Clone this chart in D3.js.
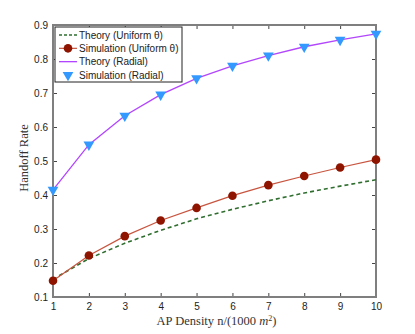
<!DOCTYPE html>
<html>
<head>
<meta charset="utf-8">
<script src="https://cdn.jsdelivr.net/npm/d3@7"></script>
<style>
  body { margin: 0; background: #fff; }
  svg text { font-family: "Liberation Sans", Arial, sans-serif; }
</style>
</head>
<body>
<div id="chart"></div>
<script>
// data
var density = [1, 2, 3, 4, 5, 6, 7, 8, 9, 10];
var theoryUniform = [0.152, 0.213, 0.258, 0.296, 0.330, 0.358, 0.383, 0.406, 0.426, 0.445];
var simUniform = [0.148, 0.222, 0.279, 0.325, 0.362, 0.398, 0.429, 0.456, 0.481, 0.504];
var theoryRadial = [0.415, 0.548, 0.633, 0.695, 0.743, 0.780, 0.810, 0.836, 0.856, 0.874];
var simRadial = [0.415, 0.548, 0.633, 0.695, 0.743, 0.780, 0.810, 0.836, 0.856, 0.874];
var yTicks = [0.1, 0.2, 0.3, 0.4, 0.5, 0.6, 0.7, 0.8, 0.9];
var legendLabels = ["Theory (Uniform \u03b8)", "Simulation (Uniform \u03b8)", "Theory (Radial)", "Simulation (Radial)"];

var width = 415, height = 334;
var margin = {top: 25, right: 39, bottom: 37, left: 53};
var w = width - margin.left - margin.right,
    h = height - margin.top - margin.bottom;

var svg = d3.select("#chart").append("svg")
    .attr("width", width)
    .attr("height", height);

var g = svg.append("g")
    .attr("transform", "translate(" + margin.left + "," + margin.top + ")");

var x = d3.scaleLinear().domain([1, 10]).range([0, w]);
var y = d3.scaleLinear().domain([0.1, 0.9]).range([h, 0]);

var axisColor = "#7f7f7f";

// axes with inward ticks on all four sides
var xb = g.append("g").attr("transform", "translate(0," + h + ")")
    .call(d3.axisBottom(x).tickValues(density).tickSize(-4).tickPadding(6).tickFormat(d3.format("d")));
var xt = g.append("g")
    .call(d3.axisTop(x).tickValues(density).tickSize(-4).tickFormat(""));
var yl = g.append("g")
    .call(d3.axisLeft(y).tickValues(yTicks).tickSize(-4).tickPadding(5).tickFormat(d3.format(".1f")));
var yr = g.append("g").attr("transform", "translate(" + w + ",0)")
    .call(d3.axisRight(y).tickValues(yTicks).tickSize(-4).tickFormat(""));

[xb, xt, yl, yr].forEach(function(a) {
  a.select(".domain").remove();
  a.selectAll(".tick line").attr("stroke", "#444").attr("stroke-width", 1);
  a.selectAll(".tick text").attr("fill", "#222").style("font-size", "10px");
});

// frame
g.append("rect")
    .attr("width", w).attr("height", h)
    .attr("fill", "none")
    .attr("stroke", axisColor)
    .attr("stroke-width", 2);

var line = function(vals) {
  return d3.line()
      .x(function(d, i) { return x(density[i]); })
      .y(function(d) { return y(d); })(vals);
};

// theory uniform (dashed green)
g.append("path").attr("d", line(theoryUniform))
    .attr("fill", "none").attr("stroke", "#2f6e2f")
    .attr("stroke-width", 1.6).attr("stroke-dasharray", "4,3");

// simulation uniform
g.append("path").attr("d", line(simUniform))
    .attr("fill", "none").attr("stroke", "#c8553f").attr("stroke-width", 1.2);
g.selectAll(".su").data(simUniform).enter().append("circle")
    .attr("cx", function(d, i) { return x(density[i]); })
    .attr("cy", function(d) { return y(d); })
    .attr("r", 4.3)
    .attr("fill", "#8f1400");

// theory radial
g.append("path").attr("d", line(theoryRadial))
    .attr("fill", "none").attr("stroke", "#b245ff").attr("stroke-width", 1.3);

// simulation radial triangles
var tri = d3.symbol().type(d3.symbolTriangle).size(50);
g.selectAll(".sr").data(simRadial).enter().append("path")
    .attr("d", tri)
    .attr("transform", function(d, i) { return "translate(" + x(density[i]) + "," + y(d) + ") rotate(180)"; })
    .attr("fill", "#3399ff");

// legend
var lg = g.append("g").attr("transform", "translate(2,2)");
lg.append("rect")
    .attr("width", 127).attr("height", 55)
    .attr("fill", "#fff").attr("stroke", "#222").attr("stroke-width", 1);

var ly = d3.scalePoint().domain(d3.range(legendLabels.length)).range([8, 48]);
legendLabels.forEach(function(lab, i) {
  var yy = ly(i);
  var row = lg.append("g");
  if (i === 0) {
    row.append("line").attr("x1", 4).attr("x2", 22).attr("y1", yy).attr("y2", yy)
      .attr("stroke", "#2f6e2f").attr("stroke-width", 1.4).attr("stroke-dasharray", "3,2");
  } else if (i === 1) {
    row.append("line").attr("x1", 4).attr("x2", 22).attr("y1", yy).attr("y2", yy)
      .attr("stroke", "#c8553f").attr("stroke-width", 1.2);
    row.append("circle").attr("cx", 13).attr("cy", yy).attr("r", 4.3).attr("fill", "#8f1400");
  } else if (i === 2) {
    row.append("line").attr("x1", 4).attr("x2", 22).attr("y1", yy).attr("y2", yy)
      .attr("stroke", "#b245ff").attr("stroke-width", 1.3);
  } else {
    row.append("path").attr("d", tri)
      .attr("transform", "translate(13," + yy + ") rotate(180)")
      .attr("fill", "#3399ff");
  }
  row.append("text").attr("x", 24).attr("y", yy).attr("dy", "0.35em")
    .style("font-size", "10px").attr("fill", "#222").text(lab);
});

// axis titles
svg.append("text")
    .attr("x", margin.left + w / 2 + 2).attr("y", 325)
    .attr("text-anchor", "middle")
    .style("font-family", "'Liberation Serif', serif")
    .style("font-size", "12.5px").attr("fill", "#333")
    .html("AP Density n/(1000 <tspan font-style='italic'>m</tspan><tspan dy='-4' font-size='8px'>2</tspan><tspan dy='4'>)</tspan>");

svg.append("text")
    .attr("transform", "translate(28," + (margin.top + h / 2 - 3) + ") rotate(-90)")
    .attr("text-anchor", "middle")
    .style("font-family", "'Liberation Serif', serif")
    .style("font-size", "12.5px").attr("fill", "#333")
    .text("Handoff Rate");
</script>
</body>
</html>
